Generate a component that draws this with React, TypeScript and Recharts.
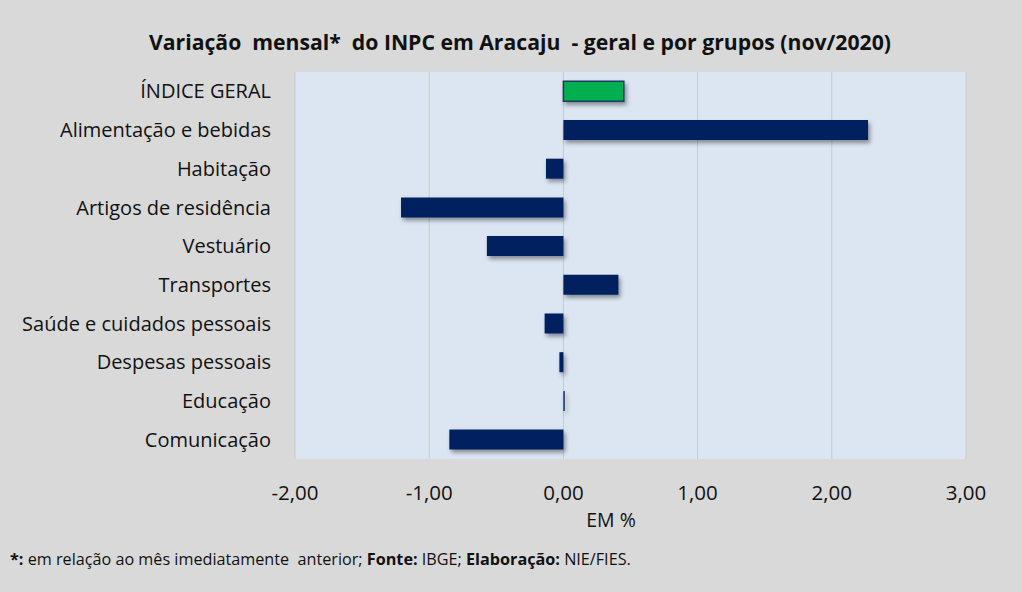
import React from 'react';
import { BarChart, Bar, XAxis, YAxis, CartesianGrid, Cell } from 'recharts';

const categories = [
  'ÍNDICE GERAL',
  'Alimentação e bebidas',
  'Habitação',
  'Artigos de residência',
  'Vestuário',
  'Transportes',
  'Saúde e cuidados pessoais',
  'Despesas pessoais',
  'Educação',
  'Comunicação',
];
const values = [0.45, 2.27, -0.13, -1.21, -0.57, 0.41, -0.14, -0.03, 0.01, -0.85];
const xTicks = [-2, -1, 0, 1, 2, 3];

const data = categories.map((c, i) => ({ name: c, value: values[i] }));
const FONT = '"Open Sans", "Noto Sans", sans-serif';
const fmt = (v: number) => v.toFixed(2).replace('.', ',');

export default function App() {
  return (
    <div style={{ position: 'relative', width: 1022, height: 592, background: '#d9d9d9', fontFamily: FONT, overflow: 'hidden' }}>
      <style>{'body{margin:0}'}</style>
      <div style={{ position: 'absolute', left: 0, width: 1040, top: 27, textAlign: 'center', fontWeight: 700, fontSize: 21.2, color: '#111', whiteSpace: 'pre' }}>
        {'Variação  mensal*  do INPC em Aracaju  - geral e por grupos (nov/2020)'}
      </div>
      <div style={{ position: 'absolute', left: 611, top: 506, transform: 'translateX(-50%)', fontSize: 19.5, color: '#111', whiteSpace: 'pre' }}>
        EM %
      </div>
      <div style={{ position: 'absolute', left: 10, top: 548, fontSize: 16.2, color: '#111', whiteSpace: 'pre' }}>
        <b>*:</b>{' em relação ao mês imediatamente  anterior; '}<b>Fonte:</b>{' IBGE; '}<b>Elaboração:</b>{' NIE/FIES.'}
      </div>
      <div style={{ position: 'absolute', left: 0, top: 0 }}>
        <BarChart width={1022} height={592} data={data} layout="vertical" margin={{ top: 72, right: 56, bottom: 103, left: 0 }} barCategoryGap="24%">
          <CartesianGrid horizontal={false} vertical={true} stroke="#c8c8c8" fill="#dce6f2" />
          <XAxis
            type="number"
            domain={[-2, 3]}
            ticks={xTicks}
            tickFormatter={fmt}
            axisLine={false}
            tickLine={false}
            tickMargin={20}
            height={30}
            tick={{ fill: '#111', fontSize: 20.5, fontFamily: FONT }}
          />
          <YAxis
            type="category"
            dataKey="name"
            width={295}
            axisLine={false}
            tickLine={false}
            tickSize={0}
            tickMargin={24}
            interval={0}
            tick={{ fill: '#111', fontSize: 20, fontFamily: FONT }}
          />
          <Bar dataKey="value" isAnimationActive={false}>
            {data.map((d, i) => (
              <Cell
                key={d.name}
                fill={i === 0 ? '#00b050' : '#002060'}
                stroke={i === 0 ? '#1f3864' : 'none'}
                strokeWidth={i === 0 ? 1.5 : 0}
                style={{ filter: 'drop-shadow(2px 3px 2px rgba(0,0,0,0.4))' }}
              />
            ))}
          </Bar>
        </BarChart>
      </div>
    </div>
  );
}
